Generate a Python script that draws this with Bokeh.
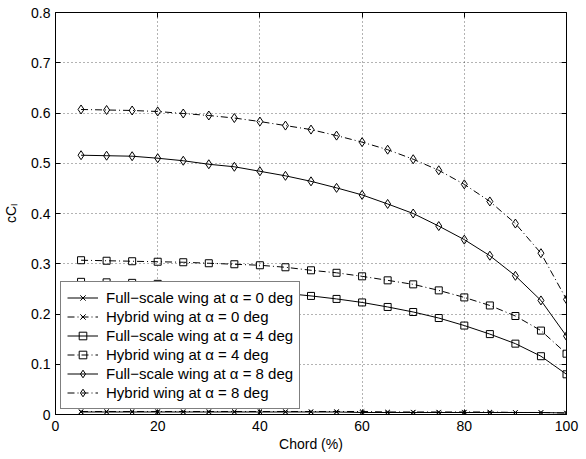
from bokeh.plotting import figure
from bokeh.models import (Range1d, FixedTicker, LinearAxis, NumeralTickFormatter,
                          CustomJSTickFormatter, Legend)
from bokeh.embed import file_html
from bokeh.resources import INLINE

# Chordwise stations (% chord)
chord = [5, 10, 15, 20, 25, 30, 35, 40, 45, 50,
         55, 60, 65, 70, 75, 80, 85, 90, 95, 100]

# Sectional lift (c*Cl) along the chord
full_a0 = [0.005, 0.005, 0.005, 0.005, 0.005, 0.005, 0.005, 0.005, 0.005, 0.005,
           0.005, 0.004, 0.004, 0.004, 0.004, 0.004, 0.004, 0.004, 0.004, 0.003]
hyb_a0 = [0.006, 0.006, 0.006, 0.006, 0.006, 0.006, 0.006, 0.006, 0.006, 0.006,
          0.006, 0.006, 0.005, 0.005, 0.005, 0.005, 0.005, 0.004, 0.004, 0.003]
full_a4 = [0.264, 0.263, 0.262, 0.260, 0.257, 0.254, 0.250, 0.246, 0.241, 0.236,
           0.230, 0.223, 0.214, 0.204, 0.192, 0.177, 0.160, 0.141, 0.116, 0.080]
hyb_a4 = [0.307, 0.306, 0.305, 0.304, 0.303, 0.301, 0.299, 0.297, 0.293, 0.287,
          0.282, 0.275, 0.267, 0.259, 0.247, 0.233, 0.217, 0.196, 0.167, 0.121]
full_a8 = [0.516, 0.515, 0.514, 0.510, 0.505, 0.498, 0.493, 0.484, 0.475, 0.464,
           0.451, 0.437, 0.419, 0.400, 0.375, 0.348, 0.316, 0.276, 0.227, 0.156]
hyb_a8 = [0.607, 0.606, 0.605, 0.603, 0.599, 0.595, 0.590, 0.583, 0.575, 0.567,
          0.555, 0.542, 0.527, 0.508, 0.486, 0.458, 0.424, 0.380, 0.321, 0.229]

x_ticks = [0, 20, 40, 60, 80, 100]
y_ticks = [0, 0.1, 0.2, 0.3, 0.4, 0.5, 0.6, 0.7, 0.8]

FONT = "Liberation Sans"
TICK_SIZE = "14px"

p = figure(width=586, height=459, output_backend="svg", toolbar_location=None,
           x_range=Range1d(0, 100), y_range=Range1d(0, 0.8),
           min_border_left=55, min_border_right=20,
           min_border_top=12, min_border_bottom=45)
p.outline_line_color = "black"
p.outline_line_width = 1
p.background_fill_color = "white"
p.border_fill_color = "white"

for ax in p.xaxis + p.yaxis:
    ax.major_tick_in = 5
    ax.major_tick_out = 0
    ax.minor_tick_line_color = None
    ax.axis_line_color = "black"
    ax.major_tick_line_color = "black"
    ax.major_label_text_font = FONT
    ax.major_label_text_font_size = TICK_SIZE
    ax.major_label_text_color = "black"
    ax.axis_label_text_font = FONT
    ax.axis_label_text_font_size = "14px"
    ax.axis_label_text_font_style = "normal"
    ax.axis_label_text_color = "black"

p.xaxis.ticker = FixedTicker(ticks=x_ticks)
p.yaxis.ticker = FixedTicker(ticks=y_ticks)
p.yaxis.formatter = NumeralTickFormatter(format="0.[0]")
p.xaxis.major_label_standoff = 6
p.yaxis.major_label_standoff = 5
p.xaxis.axis_label = "Chord (%)"
p.xaxis.axis_label_standoff = 2
p.yaxis.axis_label = "cC\u2097"
p.yaxis.axis_label_standoff = 9

# Mirror ticks on the top and right edges of the box (no labels)
blank = CustomJSTickFormatter(code="return ''")
top = LinearAxis(ticker=FixedTicker(ticks=x_ticks), major_tick_in=5, major_tick_out=0,
                 minor_tick_line_color=None, formatter=blank,
                 major_label_standoff=0, axis_line_color=None)
right = LinearAxis(ticker=FixedTicker(ticks=y_ticks), major_tick_in=5, major_tick_out=0,
                   minor_tick_line_color=None, formatter=blank,
                   major_label_standoff=0, axis_line_color=None)
p.add_layout(top, "above")
p.add_layout(right, "right")

p.xgrid.ticker = FixedTicker(ticks=x_ticks)
p.ygrid.ticker = FixedTicker(ticks=y_ticks)
for g in (p.xgrid, p.ygrid):
    g.grid_line_color = "black"
    g.grid_line_alpha = 0.6
    g.grid_line_dash = "1 3"
    g.grid_line_width = 1

DASHDOT = "7 3 1 3"
series = [
    ("Full\u2212scale wing at \u03b1 = 0 deg", full_a0, "solid", "x", 6),
    ("Hybrid wing at \u03b1 = 0 deg", hyb_a0, DASHDOT, "x", 6),
    ("Full\u2212scale wing at \u03b1 = 4 deg", full_a4, "solid", "square", 7),
    ("Hybrid wing at \u03b1 = 4 deg", hyb_a4, DASHDOT, "square", 7),
    ("Full\u2212scale wing at \u03b1 = 8 deg", full_a8, "solid", "diamond", 9),
    ("Hybrid wing at \u03b1 = 8 deg", hyb_a8, DASHDOT, "diamond", 9),
]

items = []
for name, ys, dash, marker, size in series:
    ln = p.line(chord, ys, line_color="black", line_width=1, line_dash=dash)
    mk = p.scatter(chord, ys, marker=marker, size=size, line_color="black",
                   fill_color=None, line_width=1)
    items.append((name, [ln, mk]))

legend = Legend(items=items, location=(5, 5))
legend.label_text_font = FONT
legend.label_text_font_size = "15px"
legend.label_text_color = "black"
legend.label_height = 19
legend.glyph_height = 19
legend.glyph_width = 31
legend.label_standoff = 8
legend.spacing = 0
legend.padding = 6
legend.margin = 0
legend.border_line_color = "black"
legend.border_line_width = 1
legend.background_fill_color = "white"
legend.background_fill_alpha = 1.0
p.add_layout(legend, "center")

open("out.html", "w").write(file_html(p, INLINE))
